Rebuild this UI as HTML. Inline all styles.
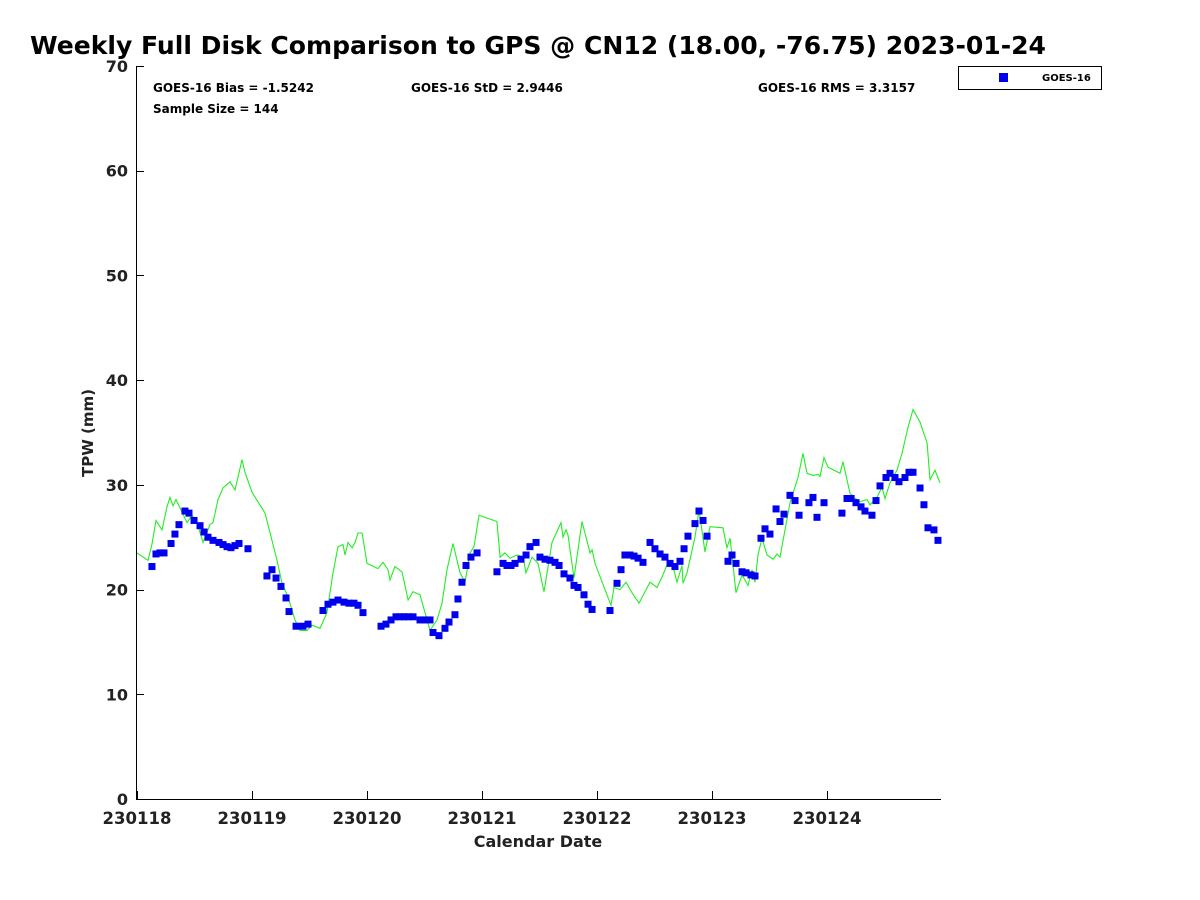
<!DOCTYPE html>
<html><head><meta charset="utf-8"><style>
body{margin:0;background:#fff}
svg{display:block;font-family:"DejaVu Sans","Liberation Sans",sans-serif}
</style></head><body>
<svg id="chart" width="1200" height="900" xmlns="http://www.w3.org/2000/svg">
<rect width="1200" height="900" fill="#fff"/>
<text x="30" y="54" font-size="24.5" font-weight="bold" fill="#000" textLength="1016" lengthAdjust="spacingAndGlyphs">Weekly Full Disk Comparison to GPS @ CN12 (18.00, -76.75) 2023-01-24</text>
<g id="axes"></g>
<g id="gps"></g>
<g id="goes"></g>
<text x="153" y="92" font-size="12" font-weight="bold">GOES-16 Bias = -1.5242</text>
<text x="411" y="92" font-size="12" font-weight="bold">GOES-16 StD = 2.9446</text>
<text x="758" y="92" font-size="12" font-weight="bold">GOES-16 RMS = 3.3157</text>
<text x="153" y="113" font-size="12" font-weight="bold">Sample Size = 144</text>
<g>
<rect x="958.5" y="66.5" width="143" height="23" fill="#fff" stroke="#000" stroke-width="1"/>
<rect x="999" y="73" width="9" height="9" fill="#0000ee"/>
<text x="1042" y="81" font-size="10" font-weight="bold">GOES-16</text>
</g>
<text x="538" y="847" font-size="16" font-weight="bold" text-anchor="middle" fill="#222">Calendar Date</text>
<text transform="translate(93,433) rotate(-90)" font-size="15" font-weight="bold" text-anchor="middle" fill="#222">TPW (mm)</text>
</svg>
<script>
const xTickLabels=["230118","230119","230120","230121","230122","230123","230124"];
const yTicks=[0,10,20,30,40,50,60,70];
const goesDays=[.130,.165,.200,.235,.296,.330,.365,.417,.452,.496,.548,.583,.617,.661,.713,.748,.783,.817,.852,.887,.965,1.130,1.174,1.209,1.252,1.296,1.322,1.383,1.443,1.487,1.617,1.661,1.704,1.748,1.800,1.843,1.887,1.922,1.965,2.122,2.165,2.209,2.252,2.287,2.322,2.357,2.400,2.461,2.504,2.548,2.574,2.626,2.678,2.713,2.765,2.791,2.826,2.861,2.904,2.957,3.130,3.183,3.217,3.252,3.287,3.339,3.383,3.417,3.470,3.504,3.548,3.591,3.635,3.670,3.713,3.765,3.800,3.835,3.887,3.922,3.957,4.113,4.174,4.209,4.243,4.287,4.322,4.357,4.400,4.461,4.504,4.548,4.591,4.635,4.678,4.722,4.757,4.791,4.852,4.887,4.922,4.957,5.139,5.174,5.209,5.261,5.296,5.339,5.374,5.426,5.461,5.504,5.557,5.591,5.626,5.678,5.722,5.757,5.843,5.878,5.913,5.974,6.130,6.174,6.209,6.252,6.296,6.330,6.391,6.426,6.461,6.513,6.548,6.591,6.626,6.678,6.713,6.748,6.809,6.843,6.878,6.930,6.965];
const goesTpw=[22.2,23.4,23.5,23.5,24.4,25.3,26.2,27.5,27.3,26.6,26.1,25.5,25.0,24.7,24.5,24.3,24.1,24.0,24.2,24.4,23.9,21.3,21.9,21.1,20.3,19.2,17.9,16.5,16.5,16.7,18.0,18.6,18.8,19.0,18.8,18.7,18.7,18.5,17.8,16.5,16.7,17.1,17.4,17.4,17.4,17.4,17.4,17.1,17.1,17.1,15.9,15.6,16.3,16.9,17.6,19.1,20.7,22.3,23.1,23.5,21.7,22.5,22.3,22.3,22.5,22.9,23.3,24.1,24.5,23.1,22.9,22.8,22.6,22.3,21.5,21.1,20.4,20.2,19.5,18.6,18.1,18.0,20.6,21.9,23.3,23.3,23.2,23.0,22.6,24.5,23.9,23.4,23.1,22.5,22.2,22.7,23.9,25.1,26.3,27.5,26.6,25.1,22.7,23.3,22.5,21.7,21.6,21.4,21.3,24.9,25.8,25.3,27.7,26.5,27.2,29.0,28.5,27.1,28.3,28.8,26.9,28.3,27.3,28.7,28.7,28.3,27.9,27.5,27.1,28.5,29.9,30.7,31.1,30.7,30.3,30.7,31.2,31.2,29.7,28.1,25.9,25.7,24.7];
const gpsDays=[0,.096,.130,.165,.217,.261,.287,.313,.339,.374,.435,.478,.522,.574,.635,.661,.704,.748,.809,.852,.913,.939,1.000,1.113,1.157,1.217,1.261,1.313,1.374,1.417,1.478,1.522,1.591,1.652,1.704,1.748,1.791,1.809,1.835,1.870,1.896,1.922,1.957,2.000,2.096,2.139,2.183,2.200,2.243,2.304,2.357,2.400,2.461,2.548,2.609,2.652,2.696,2.748,2.809,2.852,2.896,2.930,2.974,3.130,3.157,3.200,3.243,3.304,3.357,3.383,3.435,3.487,3.539,3.609,3.687,3.704,3.730,3.748,3.800,3.870,3.939,3.957,3.983,4.122,4.148,4.200,4.252,4.304,4.365,4.461,4.522,4.574,4.617,4.661,4.696,4.739,4.748,4.783,4.852,4.887,4.939,4.983,5.096,5.130,5.157,5.209,5.261,5.313,5.348,5.374,5.400,5.435,5.478,5.530,5.565,5.591,5.678,5.748,5.791,5.826,5.878,5.922,5.939,5.974,6.009,6.113,6.139,6.200,6.235,6.287,6.348,6.374,6.435,6.478,6.504,6.548,6.609,6.652,6.704,6.748,6.809,6.870,6.896,6.939,6.983];
const gpsTpw=[23.5,22.8,24.3,26.6,25.7,27.9,28.8,28.0,28.6,27.8,26.4,27.1,26.4,24.5,26.2,26.4,28.6,29.7,30.3,29.5,32.4,31.2,29.3,27.3,25.4,22.8,20.6,19.3,17.1,16.1,16.1,16.6,16.3,17.8,21.6,24.1,24.3,23.3,24.5,24.0,24.5,25.4,25.4,22.5,22.0,22.6,21.9,20.9,22.2,21.7,19.0,19.8,19.5,16.1,17.1,18.7,21.9,24.4,21.6,20.7,23.5,24.1,27.1,26.5,23.1,23.5,23.0,23.3,23.1,21.6,23.1,22.5,19.8,24.5,26.4,25.0,25.7,25.2,21.1,26.5,23.5,23.8,22.5,18.5,20.2,20.0,20.7,19.7,18.7,20.7,20.2,21.4,22.6,22.2,20.7,22.3,20.6,21.6,25.0,27.6,23.6,26.0,25.9,24.0,24.9,19.7,21.4,20.4,21.9,20.7,23.3,24.9,23.3,22.9,23.4,23.1,28.3,30.7,33.0,31.1,30.9,31.0,30.8,32.6,31.7,31.1,32.2,29.2,28.8,28.4,28.6,28.1,28.8,29.8,28.7,30.2,31.4,33.0,35.5,37.2,36.0,34.0,30.5,31.4,30.2];

const X0=137,DAY=115,Y0=799,YTOP=66,YMAX=70;
const xs=d=>X0+d*DAY;
const ys=v=>Y0-v*(Y0-YTOP)/YMAX;
const NS='http://www.w3.org/2000/svg';
function mk(tag,attrs,parent){const e=document.createElementNS(NS,tag);for(const k in attrs)e.setAttribute(k,attrs[k]);parent.appendChild(e);return e;}
const axes=document.getElementById('axes');
let l=mk('line',{x1:136.5,y1:YTOP,x2:136.5,y2:Y0+0.5,stroke:'#000','stroke-width':1},axes);


l=mk('line',{x1:136,y1:Y0+0.5,x2:941,y2:Y0+0.5,stroke:'#000','stroke-width':1},axes);


yTicks.forEach(v=>{
  const y=Math.round(ys(v))+0.5;
  const t=mk('line',{x1:136,y1:y,x2:144,y2:y,stroke:'#000'},axes);
  
  
  const tx=mk('text',{x:128,y:ys(v)+6,'font-size':16,'font-weight':'bold','text-anchor':'end',fill:'#222'},axes);
  tx.textContent=v;
  
  
});
xTickLabels.forEach((lab,i)=>{
  const x=Math.round(xs(i))+0.5;
  const t=mk('line',{x1:x,y1:Y0,x2:x,y2:Y0-8,stroke:'#000'},axes);
  
  
  const tx=mk('text',{x:xs(i),y:824,'font-size':16.5,'font-weight':'bold','text-anchor':'middle',fill:'#222'},axes);
  tx.textContent=lab;
  
  
});
const gps=document.getElementById('gps');
const pl=mk('polyline',{points:gpsDays.map((d,i)=>xs(d).toFixed(1)+','+ys(gpsTpw[i]).toFixed(1)).join(' '),fill:'none',stroke:'#22ee22','stroke-width':1.1},gps);


const goes=document.getElementById('goes');
goesDays.forEach((d,i)=>{
  const r=mk('rect',{x:xs(d)-3.5,y:ys(goesTpw[i])-3.5,width:7,height:7,fill:'#0000ee'},goes);
  
  
});
</script>
</body></html>
